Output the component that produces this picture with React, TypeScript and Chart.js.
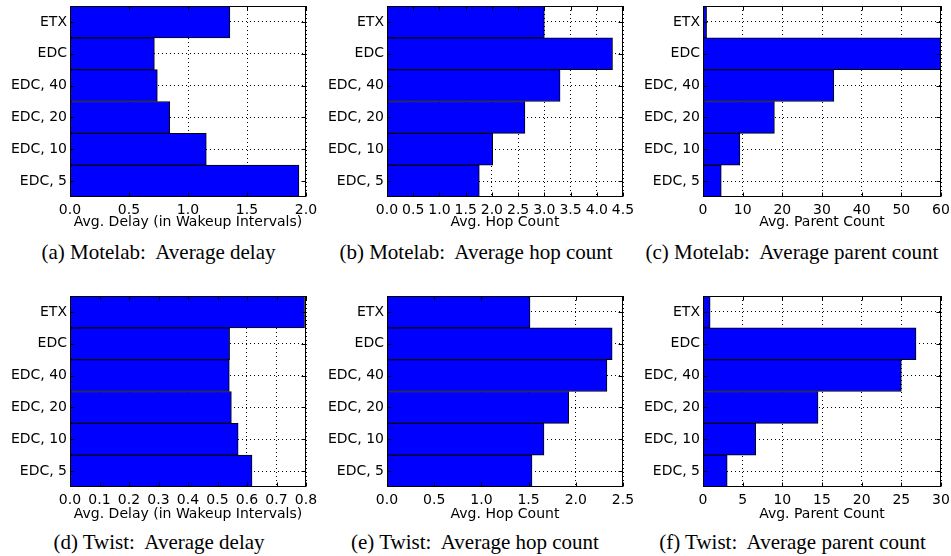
import React, { useEffect, useRef } from "react";
import { Chart, registerables } from "chart.js";

Chart.register(...registerables);

// ---- data ----
const categories = ["ETX", "EDC", "EDC, 40", "EDC, 20", "EDC, 10", "EDC, 5"];

const motelabDelay = [1.355, 0.715, 0.74, 0.845, 1.155, 1.94];
const motelabHop = [3.0, 4.3, 3.3, 2.63, 2.015, 1.76];
const motelabParent = [0.9, 60, 33, 18, 9.3, 4.6];
const twistDelay = [0.795, 0.541, 0.54, 0.547, 0.57, 0.617];
const twistHop = [1.515, 2.385, 2.33, 1.925, 1.663, 1.536];
const twistParent = [0.9, 26.85, 25.0, 14.5, 6.65, 3.05];

const motelabDelayTicks = [0, 0.5, 1.0, 1.5, 2.0];
const motelabHopTicks = [0, 0.5, 1.0, 1.5, 2.0, 2.5, 3.0, 3.5, 4.0, 4.5];
const motelabParentTicks = [0, 10, 20, 30, 40, 50, 60];
const twistDelayTicks = [0, 0.1, 0.2, 0.3, 0.4, 0.5, 0.6, 0.7, 0.8];
const twistHopTicks = [0, 0.5, 1.0, 1.5, 2.0, 2.5];
const twistParentTicks = [0, 5, 10, 15, 20, 25, 30];

const delayTitle = "Avg. Delay (in Wakeup Intervals)";
const hopTitle = "Avg. Hop Count";
const parentTitle = "Avg. Parent Count";

const captions = [
  "(a) Motelab:  Average delay",
  "(b) Motelab:  Average hop count",
  "(c) Motelab:  Average parent count",
  "(d) Twist:  Average delay",
  "(e) Twist:  Average hop count",
  "(f) Twist:  Average parent count",
];

// ---- layout ----
const Y_AXIS_W = 70;
const PAD_T = 6;
const PAD_R = 16;

type Panel = {
  values: number[];
  ticks: number[];
  decimals: number;
  title: string;
  caption: string;
  plotLeft: number;
  plotTop: number;
  plotW: number;
  plotH: number;
  xAxisH: number;
  capCenter: number;
  capTop: number;
};

const panels: Panel[] = [
  { values: motelabDelay, ticks: motelabDelayTicks, decimals: 1, title: delayTitle, caption: captions[0], plotLeft: 70, plotTop: 6, plotW: 236, plotH: 191, xAxisH: 34, capCenter: 158.5, capTop: 242 },
  { values: motelabHop, ticks: motelabHopTicks, decimals: 1, title: hopTitle, caption: captions[1], plotLeft: 387, plotTop: 6, plotW: 236, plotH: 191, xAxisH: 34, capCenter: 476, capTop: 242 },
  { values: motelabParent, ticks: motelabParentTicks, decimals: 0, title: parentTitle, caption: captions[2], plotLeft: 703, plotTop: 6, plotW: 238, plotH: 191, xAxisH: 34, capCenter: 792, capTop: 242 },
  { values: twistDelay, ticks: twistDelayTicks, decimals: 1, title: delayTitle, caption: captions[3], plotLeft: 70, plotTop: 296, plotW: 236, plotH: 191, xAxisH: 36, capCenter: 159, capTop: 532 },
  { values: twistHop, ticks: twistHopTicks, decimals: 1, title: hopTitle, caption: captions[4], plotLeft: 387, plotTop: 296, plotW: 236, plotH: 191, xAxisH: 36, capCenter: 475, capTop: 532 },
  { values: twistParent, ticks: twistParentTicks, decimals: 0, title: parentTitle, caption: captions[5], plotLeft: 703, plotTop: 296, plotW: 238, plotH: 191, xAxisH: 36, capCenter: 792.5, capTop: 532 },
];

const FONT = { family: "'DejaVu Sans'", size: 14 };

const framePlugin = {
  id: "frameTicks",
  afterDraw(chart: any) {
    const { ctx, chartArea: a, scales } = chart;
    const L = Math.round(a.left) + 0.5;
    const R = Math.round(a.right) - 0.5;
    const T = Math.round(a.top) + 0.5;
    const B = Math.round(a.bottom) - 0.5;
    ctx.save();
    ctx.strokeStyle = "#000";
    ctx.lineWidth = 1;
    ctx.setLineDash([]);
    const len = 4;
    ctx.beginPath();
    for (const t of scales.x.ticks) {
      const px = Math.round(scales.x.getPixelForValue(t.value)) + 0.5;
      ctx.moveTo(px, B);
      ctx.lineTo(px, B - len);
      ctx.moveTo(px, T);
      ctx.lineTo(px, T + len);
    }
    for (let i = 0; i < chart.data.labels.length; i++) {
      const py = Math.round(scales.y.getPixelForValue(i)) + 0.5;
      ctx.moveTo(L, py);
      ctx.lineTo(L + len, py);
      ctx.moveTo(R, py);
      ctx.lineTo(R - len, py);
    }
    ctx.stroke();
    ctx.strokeRect(L, T, R - L, B - T);
    ctx.restore();
  },
};

function BarPanel({ p }: { p: Panel }) {
  const ref = useRef<HTMLCanvasElement>(null);
  const width = Y_AXIS_W + p.plotW + PAD_R;
  const height = PAD_T + p.plotH + p.xAxisH;
  useEffect(() => {
    const chart = new Chart(ref.current!, {
      type: "bar",
      data: {
        labels: categories,
        datasets: [
          {
            data: p.values,
            backgroundColor: "#0000ff",
            borderColor: "#000000",
            borderWidth: 1,
            borderSkipped: false,
            barPercentage: 1,
            categoryPercentage: 1,
          },
        ],
      },
      options: {
        indexAxis: "y",
        animation: false,
        responsive: false,
        events: [],
        layout: { padding: { top: PAD_T, right: PAD_R, left: 0, bottom: 0 } },
        plugins: { legend: { display: false }, tooltip: { enabled: false } },
        scales: {
          x: {
            type: "linear",
            position: "bottom",
            min: p.ticks[0],
            max: p.ticks[p.ticks.length - 1],
            z: 1,
            afterBuildTicks: (s: any) => {
              s.ticks = p.ticks.map((v) => ({ value: v }));
            },
            afterFit: (s: any) => {
              s.height = p.xAxisH;
              s.paddingLeft = 0;
              s.paddingRight = 0;
            },
            grid: { color: "#000", lineWidth: 1, drawTicks: false },
            border: { display: false, dash: [1, 3] },
            ticks: {
              padding: 5,
              color: "#000",
              font: FONT,
              maxRotation: 0,
              minRotation: 0,
              autoSkip: false,
              callback: (v: any) => Number(v).toFixed(p.decimals),
            },
            title: { display: true, text: p.title, color: "#000", font: FONT, padding: 0 },
          },
          y: {
            type: "category",
            z: 1,
            afterFit: (s: any) => {
              s.width = Y_AXIS_W;
              s.paddingTop = 0;
              s.paddingBottom = 0;
            },
            grid: { color: "#000", lineWidth: 1, drawTicks: false, offset: false },
            border: { display: false, dash: [1, 3] },
            ticks: { padding: 3, color: "#000", font: FONT, autoSkip: false },
          },
        },
      },
      plugins: [framePlugin],
    } as any);
    return () => chart.destroy();
  }, []);
  return (
    <canvas
      ref={ref}
      width={width}
      height={height}
      style={{
        position: "absolute",
        left: p.plotLeft - Y_AXIS_W,
        top: p.plotTop - PAD_T,
        width,
        height,
      }}
    />
  );
}

export default function App() {
  return (
    <div
      style={{
        position: "absolute",
        left: 0,
        top: 0,
        width: 951,
        height: 556,
        background: "#fff",
        overflow: "hidden",
      }}
    >
      {panels.map((p, i) => (
        <BarPanel key={i} p={p} />
      ))}
      {panels.map((p, i) => (
        <div
          key={"c" + i}
          style={{
            position: "absolute",
            left: p.capCenter - 200,
            top: p.capTop,
            width: 400,
            textAlign: "center",
            whiteSpace: "pre",
            fontFamily: "'Liberation Serif', serif",
            fontSize: 21,
            lineHeight: "21px",
            color: "#000",
          }}
        >
          {p.caption}
        </div>
      ))}
    </div>
  );
}
